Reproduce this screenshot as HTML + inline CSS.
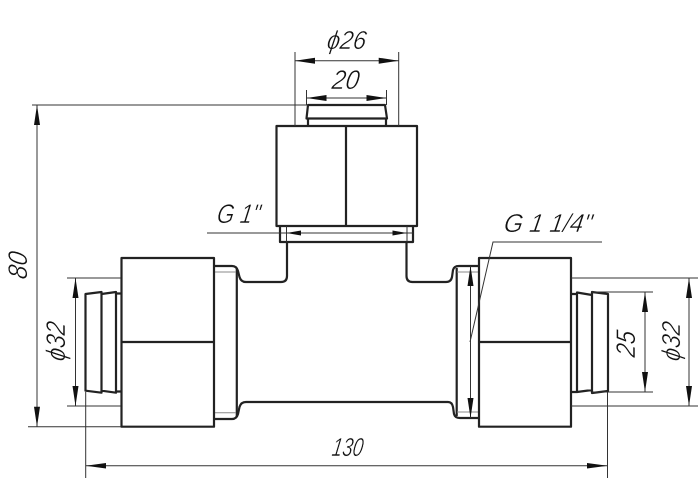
<!DOCTYPE html>
<html><head><meta charset="utf-8"><style>
html,body{margin:0;padding:0;background:#fff}
svg{display:block}
text{font-family:"Liberation Sans",sans-serif;font-style:italic;font-size:27px;fill:#111;stroke:#fff;stroke-width:.5px}
.m{fill:none;stroke:#222;stroke-width:2.2;stroke-linejoin:round}
.t{fill:none;stroke:#333;stroke-width:1}
.g{fill:none;stroke:#888;stroke-width:1}
.a{fill:#111;stroke:none}
</style></head><body>
<svg width="700" height="500" viewBox="0 0 700 500" xmlns="http://www.w3.org/2000/svg">
<rect width="700" height="500" fill="#fff"/>

<!-- top nut and cap -->
<path class="m" d="M276.5 126H417V226H276.5Z M346 126V226"/>
<path class="m" d="M308 126V118.5H386V126 M308 118.5H306.5L308 105H385L387 118.5H386"/>
<path class="m" d="M280 226V242H413V226"/>
<path class="m" d="M287 242V276Q287 282 281 282H246Q241 282 239.500 277L238 271Q236.500 266 232 266H214"/>
<path class="m" d="M406.500 242V276Q406.500 282 412.500 282H446Q451 282 452 277L453 270Q454 266 459 266H479"/>
<path class="m" d="M214 419H232Q236.500 419 238 414L239.500 407Q241 402 246 402H448Q452 402 453 407L454 414Q455 418 460 418H479"/>
<path class="m" d="M236.800 268V417 M456.700 268V416"/>
<path class="g" d="M214 272H236 M214 412.700H236 M457 272H479 M457 412H479"/>

<!-- left nut -->
<path class="m" d="M121.500 258H214V426.700H121.500Z M121.500 342H214"/>
<path class="m" d="M121.500 293.500H116V391.500H121.500 M116 292L101.500 294V390.700L116 392.700Z M101.500 292L85.500 294V390.700L101.500 392.700Z"/>
<!-- right nut -->
<path class="m" d="M479 258H571V426.700H479Z M479 342H571"/>
<path class="m" d="M571 294H577V392H571 M577 292.500L592 295V390L577 392Z M592 292L608 294V391L592 393Z"/>

<!-- extension and dimension lines -->
<path class="t" d="M32 105H308 M295 52V126 M398.700 52V126 M306.500 90V105 M386.500 90V105"/>
<path class="t" d="M295 60.700H398.700 M306.500 98H386.500"/>
<path class="t" d="M207 233H413 M286.500 226V242 M407 226V242"/>
<path class="t" d="M37 105V426.700 M28 426.700H121 M67 278H121 M67 406H121 M75.500 278V406"/>
<path class="t" d="M85.700 392V478 M607.500 392V478 M85.700 465.700H607.500"/>
<path class="t" d="M571 278H698 M571 406H698 M592 292H653 M592 392H653 M689 278V406 M645 292V392"/>
<path class="t" d="M470.500 266V418 M470 342L493 242H602"/>

<!-- arrowheads -->
<g class="a">
<polygon class="a" points="295,60.700 315,57.700 315,63.700"/>
<polygon class="a" points="398.700,60.700 378.700,57.700 378.700,63.700"/>
<polygon class="a" points="306.500,98 326.500,95 326.500,101"/>
<polygon class="a" points="386.500,98 366.500,95 366.500,101"/>
<polygon class="a" points="286.500,233 301,230.500 301,235.500"/>
<polygon class="a" points="407,233 392.500,230.500 392.500,235.500"/>
<polygon class="a" points="37,105 34,125 40,125"/>
<polygon class="a" points="37,426.700 34,406.700 40,406.700"/>
<polygon class="a" points="75.500,278 72.500,298 78.500,298"/>
<polygon class="a" points="75.500,406 72.500,386 78.500,386"/>
<polygon class="a" points="85.700,465.700 106,463 106,468.500"/>
<polygon class="a" points="607.500,465.700 587,463 587,468.500"/>
<polygon class="a" points="689,278 686,298 692,298"/>
<polygon class="a" points="689,406 686,386 692,386"/>
<polygon class="a" points="645,292 642,312 648,312"/>
<polygon class="a" points="645,392 642,372 648,372"/>
<polygon class="a" points="470.500,266 467.500,286 473.500,286"/>
<polygon class="a" points="470.500,418 467.500,398 473.500,398"/>
</g>

<!-- labels -->
<g transform="translate(326,49) skewX(-9)"><text textLength="39" lengthAdjust="spacingAndGlyphs" style="font-size:26px">ϕ26</text></g>
<g transform="translate(331,89) skewX(-9)"><text textLength="27" lengthAdjust="spacingAndGlyphs">20</text></g>
<g transform="translate(216,223) skewX(-9)"><text textLength="43" lengthAdjust="spacingAndGlyphs">G 1"</text></g>
<g transform="translate(503,232) skewX(-9)"><text textLength="88" lengthAdjust="spacingAndGlyphs" style="font-size:26px">G 1 1/4"</text></g>
<g transform="translate(331,456) skewX(-9)"><text textLength="31" lengthAdjust="spacingAndGlyphs" style="font-size:26px">130</text></g>
<g transform="translate(27,280) rotate(-90) skewX(-9)"><text textLength="27" lengthAdjust="spacingAndGlyphs">80</text></g>
<g transform="translate(65,362) rotate(-90) skewX(-9)"><text textLength="39" lengthAdjust="spacingAndGlyphs">ϕ32</text></g>
<g transform="translate(635,358) rotate(-90) skewX(-9)"><text textLength="26" lengthAdjust="spacingAndGlyphs">25</text></g>
<g transform="translate(680,362) rotate(-90) skewX(-9)"><text textLength="39" lengthAdjust="spacingAndGlyphs" style="font-size:26px">ϕ32</text></g>
</svg>
</body></html>
